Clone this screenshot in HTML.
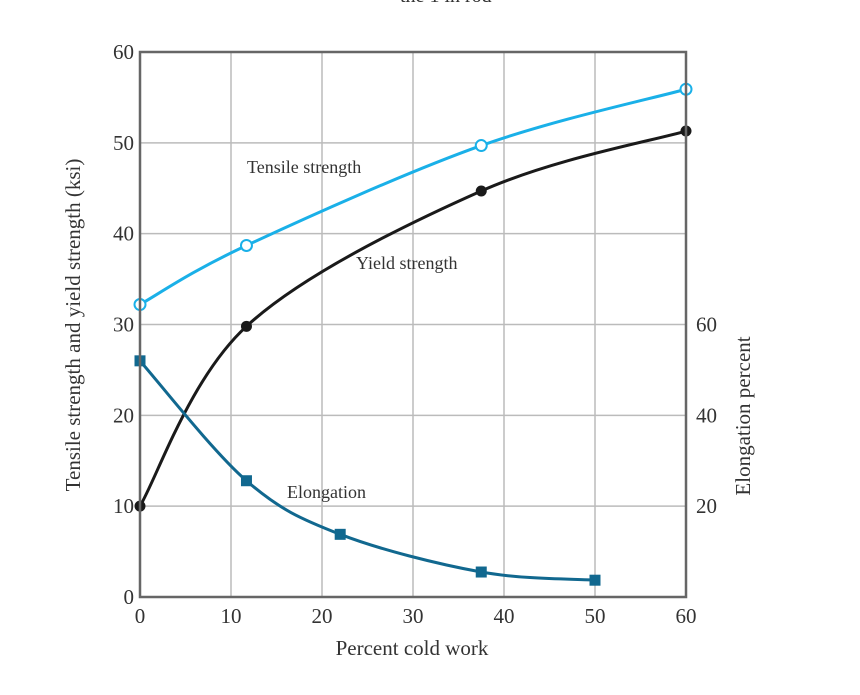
<!DOCTYPE html>
<html><head><meta charset="utf-8"><style>
html,body{margin:0;padding:0;background:#fff;width:860px;height:695px;overflow:hidden}
svg text{font-family:"Liberation Serif",serif;fill:#333}
</style></head><body>
<svg id="chart" width="860" height="695" viewBox="0 0 860 695">
<text x="440" y="2" font-size="20" text-anchor="middle">· the 1 in rod</text>
<g id="grid"></g>
<g id="series"></g>
<g id="axes"></g>
<text x="412" y="655" font-size="21" text-anchor="middle">Percent cold work</text>
<text transform="translate(80,325) rotate(-90)" font-size="21" text-anchor="middle">Tensile strength and yield strength (ksi)</text>
<text transform="translate(750,416) rotate(-90)" font-size="21" text-anchor="middle">Elongation percent</text>
<text x="247" y="173" font-size="18">Tensile strength</text>
<text x="356" y="269" font-size="18">Yield strength</text>
<text x="287" y="498" font-size="18">Elongation</text>
</svg>
<script>
const xTicks=[0,10,20,30,40,50,60];
const yTicks=[0,10,20,30,40,50,60];
const rightTicks=[20,40,60];
const tensileX=[0,11.7,37.5,60];
const tensileY=[32.2,38.7,49.7,55.9];
const yieldX=[0,11.7,37.5,60];
const yieldY=[10,29.8,44.7,51.3];
const elongX=[0,11.7,22,37.5,50];
const elongY=[52,25.6,13.8,5.5,3.7];
const NS="http://www.w3.org/2000/svg";
const X0=140,X1=686,Y0=597,Y1=52;
const sx=v=>X0+(X1-X0)*v/60;
const sy=v=>Y0-(Y0-Y1)*v/60;
const sr=v=>Y0-(Y0-Y1)*v/120;
function mk(tag,attrs,parent){const e=document.createElementNS(NS,tag);for(const k in attrs)e.setAttribute(k,attrs[k]);document.getElementById(parent).appendChild(e);return e;}
xTicks.forEach(t=>{
 const l=mk('line',{x1:sx(t),x2:sx(t),y1:Y1,y2:Y0,stroke:'#bbb','stroke-width':1.5},'grid');
 
 
 const tx=mk('text',{x:sx(t),y:Y0+26,'font-size':21,'text-anchor':'middle'},'axes');tx.textContent=t;
 
 
});
yTicks.forEach(t=>{
 const l=mk('line',{x1:X0,x2:X1,y1:sy(t),y2:sy(t),stroke:'#bbb','stroke-width':1.5},'grid');
 
 
 const tx=mk('text',{x:X0-6,y:sy(t)+7,'font-size':21,'text-anchor':'end'},'axes');tx.textContent=t;
 
 
});
rightTicks.forEach(t=>{
 const tx=mk('text',{x:X1+10,y:sr(t)+7,'font-size':21},'axes');tx.textContent=t;
 
 
});
const fr=mk('rect',{x:X0,y:Y1,width:X1-X0,height:Y0-Y1,fill:'none',stroke:'#666','stroke-width':2.5},'axes');


function path(pts){
 let d=`M${pts[0][0]},${pts[0][1]}`;
 for(let i=0;i<pts.length-1;i++){
  const p0=pts[i-1]||pts[i],p1=pts[i],p2=pts[i+1],p3=pts[i+2]||p2;
  const c1=[p1[0]+(p2[0]-p0[0])/6,p1[1]+(p2[1]-p0[1])/6];
  const c2=[p2[0]-(p3[0]-p1[0])/6,p2[1]-(p3[1]-p1[1])/6];
  d+=` C${c1[0]},${c1[1]} ${c2[0]},${c2[1]} ${p2[0]},${p2[1]}`;
 }
 return d;
}
function series(xs,ys,scale,color,name,marker){
 const pts=xs.map((x,i)=>[sx(x),scale(ys[i])]);
 const p=mk('path',{d:path(pts),fill:'none',stroke:color,'stroke-width':3},'series');
 
 
 pts.forEach(q=>{
  let m;
  if(marker==='open')m=mk('circle',{cx:q[0],cy:q[1],r:5.5,fill:'#fff',stroke:color,'stroke-width':2},'series');
  else if(marker==='dot')m=mk('circle',{cx:q[0],cy:q[1],r:5.5,fill:color},'series');
  else m=mk('rect',{x:q[0]-5.5,y:q[1]-5.5,width:11,height:11,fill:color},'series');
  
  
 });
}
series(tensileX,tensileY,sy,'#1ab0e8','tensile','open');
series(yieldX,yieldY,sy,'#1a1a1a','yield','dot');
series(elongX,elongY,sr,'#11688f','elongation','square');
</script>
</body></html>
